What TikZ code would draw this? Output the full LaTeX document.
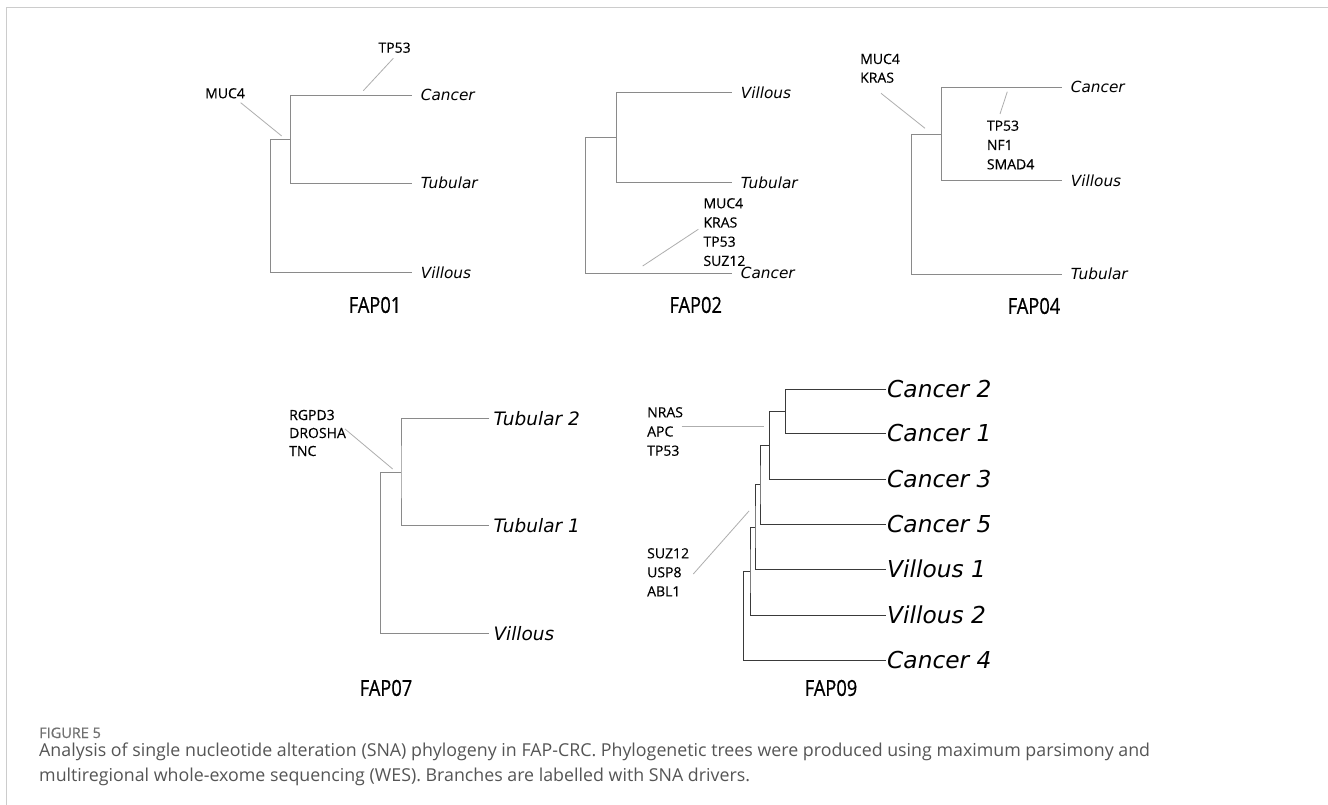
\documentclass[tikz,border=0pt]{standalone}
\usepackage{fontspec}
\setmainfont{Open Sans}
\newfontfamily\leaffont{DejaVu Sans}
\newfontfamily\genefont{Open Sans}[FakeBold=0.35]
\newfontfamily\titlefont{Open Sans}[FakeStretch=0.83,FakeBold=0.6]
\newfontfamily\capfont{Open Sans}
\newfontfamily\figfont{Open Sans}[FakeBold=0.6]
\definecolor{brgrey}{HTML}{8A8A8A}
\definecolor{leadgrey}{HTML}{AEAEAE}
\definecolor{darkbr}{HTML}{3A3A3A}
\definecolor{framegrey}{HTML}{CCCCCC}
\definecolor{capgrey}{HTML}{555555}
\definecolor{figgrey}{HTML}{707070}
\tikzset{
  branch/.style={draw=brgrey, line width=0.9pt},
  branchdark/.style={draw=darkbr, line width=1pt},
  leader/.style={draw=leadgrey, line width=0.8pt},
  leafs/.style={font=\leaffont\itshape\fontsize{15.3}{18}\selectfont, anchor=west, inner xsep=9pt, inner ysep=0pt, text height=11.2pt, text depth=0pt},
  leafm/.style={font=\leaffont\itshape\fontsize{18.5}{22}\selectfont, anchor=west, inner xsep=4pt, inner ysep=0pt, text height=13.5pt, text depth=0pt},
  leafl/.style={font=\leaffont\itshape\fontsize{23.3}{28}\selectfont, anchor=west, inner xsep=1pt, inner ysep=0pt, text height=17pt, text depth=0pt},
  gene/.style={font=\genefont\fontsize{14}{17}\selectfont, anchor=west, inner sep=0pt, text height=10pt, text depth=0pt},
  ttl/.style={font=\titlefont\fontsize{22}{26}\selectfont, inner sep=0pt, text height=15.7pt, text depth=0pt},
  captxt/.style={font=\capfont\fontsize{17.8}{21}\selectfont, text=capgrey, anchor=west, inner sep=0pt, text height=12.7pt, text depth=0pt},
}
\begin{document}
\begin{tikzpicture}[x=1pt, y=-1pt]
\useasboundingbox (0,0) rectangle (1328,805);
\fill[white] (0,0) rectangle (1328,805);
% frame
\draw[framegrey, line width=1.5pt] (6.5,805) -- (6.5,7.5) -- (1328,7.5);

% ---------- FAP01 ----------
\node[leafs] (a-c) at (411.7,95) {Cancer};
\node[leafs] (a-t) at (411.7,183.3) {Tubular};
\node[leafs] (a-v) at (411.7,272.7) {Villous};
\coordinate (a-n) at (290.7,139.2);
\coordinate (a-r) at (270.7,206);
\draw[branch] (a-c.west) -| (a-n) |- (a-t.west);
\draw[branch] (a-n) -| (a-r) |- (a-v.west);
\node[gene] (a-g1) at (378.3,47.7) {TP53};
\node[gene] (a-g2) at (205,93.3) {MUC4};
\coordinate (a-l1s) at (393.3,58.3);
\coordinate (a-l1e) at (363.3,90.7);
\coordinate (a-l2s) at (240.7,102.7);
\coordinate (a-l2e) at (281.7,136);
\draw[leader] (a-l1s) -- (a-l1e);
\draw[leader] (a-l2s) -- (a-l2e);
\node[ttl] (a-ttl) at (375,305) {FAP01};

% ---------- FAP02 ----------
\node[leafs] (b-v) at (731.7,92.7) {Villous};
\node[leafs] (b-t) at (731.7,182.7) {Tubular};
\node[leafs] (b-c) at (731.7,273.3) {Cancer};
\coordinate (b-n) at (616.7,137.7);
\coordinate (b-r) at (585.7,205.5);
\draw[branch] (b-v.west) -| (b-n) |- (b-t.west);
\draw[branch] (b-n) -| (b-r) |- (b-c.west);
\node[gene] (b-g1) at (703.3,203.3) {MUC4};
\node[gene] (b-g2) at (703.3,222.5) {KRAS};
\node[gene] (b-g3) at (703.3,241.7) {TP53};
\node[gene] (b-g4) at (703.3,260.9) {SUZ12};
\coordinate (b-ls) at (698.3,229.3);
\coordinate (b-le) at (642.7,266);
\draw[leader] (b-ls) -- (b-le);
\node[ttl] (b-ttl) at (695.7,305) {FAP02};

% ---------- FAP04 ----------
\node[leafs] (c-c) at (1061.7,87.3) {Cancer};
\node[leafs] (c-v) at (1061.7,180.7) {Villous};
\node[leafs] (c-t) at (1061.7,274) {Tubular};
\coordinate (c-n) at (941,134);
\coordinate (c-r) at (911,204);
\draw[branch] (c-c.west) -| (c-n) |- (c-v.west);
\draw[branch] (c-n) -| (c-r) |- (c-t.west);
\node[gene] (c-g1) at (860,59) {MUC4};
\node[gene] (c-g2) at (860,77.7) {KRAS};
\node[gene] (c-g3) at (986.7,125.7) {TP53};
\node[gene] (c-g4) at (986.7,145) {NF1};
\node[gene] (c-g5) at (986.7,164.3) {SMAD4};
\coordinate (c-l1s) at (881,93.3);
\coordinate (c-l1e) at (925,128.3);
\coordinate (c-l2s) at (1007.3,91.7);
\coordinate (c-l2e) at (1000,114);
\draw[leader] (c-l1s) -- (c-l1e);
\draw[leader] (c-l2s) -- (c-l2e);
\node[ttl] (c-ttl) at (1034,306) {FAP04};

% ---------- FAP07 ----------
\node[leafm] (d-t2) at (489.3,418.3) {Tubular 2};
\node[leafm] (d-t1) at (489.3,525.7) {Tubular 1};
\node[leafm] (d-v) at (489.3,633.3) {Villous};
\coordinate (d-n) at (401,472);
\coordinate (d-r) at (380.7,552.7);
\draw[branch] (d-t2.west) -| (d-n) |- (d-t1.west);
\draw[branch] (d-n) -| (d-r) |- (d-v.west);
\node[gene] (d-g1) at (289,415) {RGPD3};
\node[gene] (d-g2) at (289,433) {DROSHA};
\node[gene] (d-g3) at (289,451) {TNC};
\coordinate (d-ls) at (345,429);
\coordinate (d-le) at (392.7,469);
\draw[leader] (d-ls) -- (d-le);
\node[ttl] (d-ttl) at (386,688) {FAP07};

% ---------- FAP09 ----------
\node[leafl] (e-c2) at (886,389.3) {Cancer 2};
\node[leafl] (e-c1) at (886,433.3) {Cancer 1};
\node[leafl] (e-c3) at (886,479) {Cancer 3};
\node[leafl] (e-c5) at (886,524.3) {Cancer 5};
\node[leafl] (e-v1) at (886,569.3) {Villous 1};
\node[leafl] (e-v2) at (886,615) {Villous 2};
\node[leafl] (e-c4) at (886,660) {Cancer 4};
\coordinate (e-A) at (785.3,411.3);
\coordinate (e-B) at (769.3,445.2);
\coordinate (e-C) at (760,484.8);
\coordinate (e-D) at (755,527);
\coordinate (e-E) at (750,571);
\coordinate (e-F) at (743.3,615.5);
\draw[branchdark] (e-c2.west) -| (e-A) |- (e-c1.west);
\draw[branchdark] (e-A) -| (e-B) |- (e-c3.west);
\draw[branchdark] (e-B) -| (e-C) |- (e-c5.west);
\draw[branchdark] (e-C) -| (e-D) |- (e-v1.west);
\draw[branchdark] (e-D) -| (e-E) |- (e-v2.west);
\draw[branchdark] (e-E) -| (e-F) |- (e-c4.west);
\node[gene] (e-g1) at (647,412.3) {NRAS};
\node[gene] (e-g2) at (647,431.5) {APC};
\node[gene] (e-g3) at (647,450.7) {TP53};
\node[gene] (e-g4) at (647,553.3) {SUZ12};
\node[gene] (e-g5) at (647,572.3) {USP8};
\node[gene] (e-g6) at (647,591.3) {ABL1};
\coordinate (e-l1s) at (681.7,426.7);
\coordinate (e-l1e) at (764.3,426.7);
\coordinate (e-l2s) at (693.3,574);
\coordinate (e-l2e) at (749,511);
\draw[leader] (e-l1s) -- (e-l1e);
\draw[leader] (e-l2s) -- (e-l2e);
\node[ttl] (e-ttl) at (831,688) {FAP09};

% ---------- caption ----------
\node[captxt, font=\figfont\fontsize{14.5}{17}\selectfont, text=figgrey, text height=10.4pt] (fig) at (39,732.8) {FIGURE 5};
\node[captxt] (cap1) at (39,750.5) {Analysis of single nucleotide alteration (SNA) phylogeny in FAP-CRC. Phylogenetic trees were produced using maximum parsimony and};
\node[captxt] (cap2) at (39,775) {multiregional whole-exome sequencing (WES). Branches are labelled with SNA drivers.};
\end{tikzpicture}
\end{document}
